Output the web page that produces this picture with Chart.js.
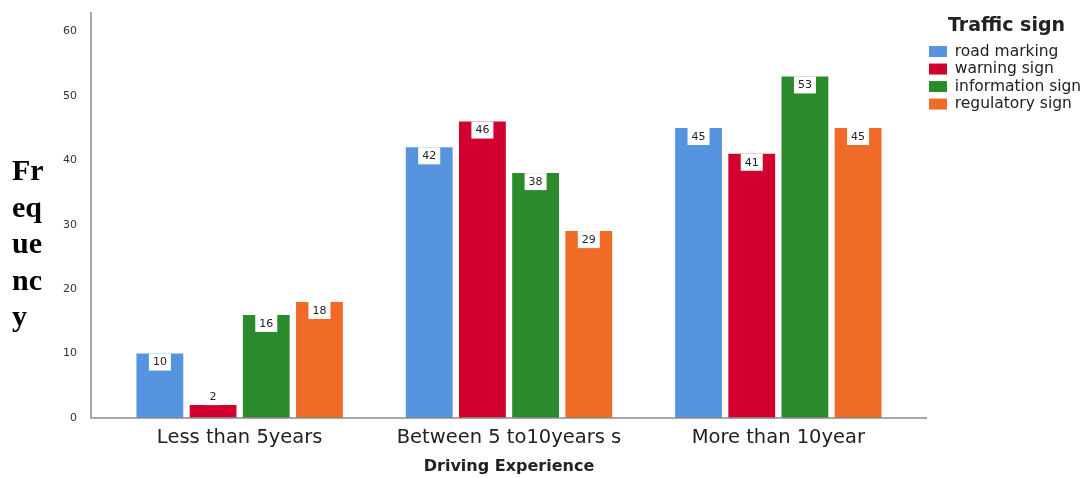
<!DOCTYPE html>
<html>
<head>
<meta charset="utf-8">
<script src="https://cdn.jsdelivr.net/npm/chart.js@4.4.1/dist/chart.umd.min.js"></script>
<style>
html, body { margin: 0; padding: 0; background: #fff; }
#wrap { position: relative; width: 1086px; height: 478px; }
#ytitle { position: absolute; left: 12px; top: 152px; font: bold 30px "Liberation Serif"; line-height: 36.5px; color: #000; }
</style>
</head>
<body>
<div id="wrap">
  <canvas id="chart" width="1086" height="478"></canvas>
  <div id="ytitle">Fr<br>eq<br>ue<br>nc<br>y</div>
</div>
<script>
// data
const categories = ['Less than 5years', 'Between 5 to10years s', 'More than 10year'];
const seriesNames = ['road marking', 'warning sign', 'information sign', 'regulatory sign'];
const roadMarking = [10, 42, 45];
const warningSign = [2, 46, 41];
const informationSign = [16, 38, 53];
const regulatorySign = [18, 29, 45];
const yTicks = [0, 10, 20, 30, 40, 50, 60];

const colors = ['#5794E0', '#D2002F', '#2A8A2C', '#F06A28'];
const series = [roadMarking, warningSign, informationSign, regulatorySign];

// axis lines sit a little outside the plot, like the SPSS output
const axisLines = {
  id: 'axisLines',
  afterDatasetsDraw(chart) {
    const { ctx, chartArea: a } = chart;
    ctx.save();
    ctx.strokeStyle = '#8a8a8a';
    ctx.lineWidth = 1.5;
    ctx.beginPath();
    ctx.moveTo(a.left - 14, a.top);
    ctx.lineTo(a.left - 14, a.bottom);
    ctx.lineTo(a.right + 14, a.bottom);
    ctx.stroke();
    ctx.restore();
  }
};

// white value boxes at the top of each bar
const valueLabels = {
  id: 'valueLabels',
  afterDatasetsDraw(chart) {
    const ctx = chart.ctx;
    ctx.save();
    ctx.font = '11px "DejaVu Sans"';
    ctx.textAlign = 'center';
    ctx.textBaseline = 'middle';
    chart.data.datasets.forEach((ds, i) => {
      chart.getDatasetMeta(i).data.forEach((bar, j) => {
        const txt = String(ds.data[j]);
        const w = ctx.measureText(txt).width + 8;
        const h = 17;
        const top = (bar.base - bar.y) < h + 4 ? bar.y - h : bar.y;
        ctx.fillStyle = '#fff';
        ctx.fillRect(bar.x - w / 2, top, w, h);
        ctx.fillStyle = '#222';
        ctx.fillText(txt, bar.x, top + h / 2 + 0.5);
      });
    });
    ctx.restore();
  }
};

new Chart(document.getElementById('chart').getContext('2d'), {
  type: 'bar',
  data: {
    labels: categories,
    datasets: series.map((d, i) => ({
      label: seriesNames[i],
      data: d,
      backgroundColor: colors[i],
      borderWidth: 0,
      categoryPercentage: 0.79,
      barPercentage: 0.88
    }))
  },
  options: {
    responsive: false,
    maintainAspectRatio: false,
    animation: false,
    layout: { padding: { left: 0, top: 12, right: 0, bottom: 0 } },
    plugins: {
      tooltip: { enabled: false },
      legend: {
        position: 'right',
        align: 'start',
        maxWidth: 159,
        title: {
          display: true,
          text: 'Traffic sign',
          color: '#222',
          font: { family: 'DejaVu Sans', size: 19, weight: 'bold' },
          padding: { top: 5, bottom: 2 }
        },
        labels: {
          boxWidth: 18,
          boxHeight: 11,
          padding: 2,
          color: '#222',
          font: { family: 'DejaVu Sans', size: 15.5 }
        }
      }
    },
    scales: {
      x: {
        offset: true,
        grid: { display: false, drawTicks: false },
        border: { display: false },
        ticks: { color: '#222', padding: 8, font: { family: 'DejaVu Sans', size: 19.5 } },
        title: {
          display: true,
          text: 'Driving Experience',
          color: '#222',
          font: { family: 'DejaVu Sans', size: 16, weight: 'bold' },
          padding: { top: 0, bottom: 2 }
        },
        afterFit: s => { s.height = 60; }
      },
      y: {
        min: 0,
        max: 63,
        grid: { display: false, drawTicks: false },
        border: { display: false },
        ticks: { color: '#333', padding: 28, font: { family: 'DejaVu Sans', size: 11 } },
        afterBuildTicks: s => { s.ticks = yTicks.map(v => ({ value: v })); },
        afterFit: s => { s.width = 105; s.paddingTop = 0; s.paddingBottom = 0; }
      },
      gap: {
        type: 'linear',
        position: 'right',
        grid: { display: false },
        border: { display: false },
        ticks: { display: false },
        afterFit: s => { s.width = 14; }
      }
    }
  },
  plugins: [axisLines, valueLabels]
});
</script>
</body>
</html>
